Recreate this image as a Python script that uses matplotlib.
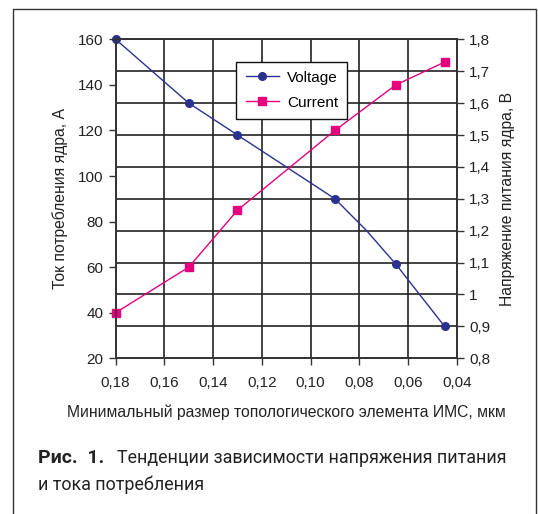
import matplotlib.pyplot as plt
from matplotlib.patches import Rectangle

# размер топологического элемента, мкм
sizes = [0.18, 0.15, 0.13, 0.09, 0.065, 0.045]
current = [40, 60, 85, 120, 140, 150]
# у кривой напряжения есть излом без маркера около 0,077
volt_sizes = [0.18, 0.15, 0.13, 0.09, 0.077, 0.065, 0.045]
voltage = [1.8, 1.6, 1.5, 1.3, 1.2, 1.095, 0.9]
volt_marked = [0, 1, 2, 3, 5, 6]

x_ticks = [0.18, 0.16, 0.14, 0.12, 0.10, 0.08, 0.06, 0.04]
x_labels = ["0,18", "0,16", "0,14", "0,12", "0,10", "0,08", "0,06", "0,04"]
left_ticks = [20, 40, 60, 80, 100, 120, 140, 160]
right_ticks = [0.8, 0.9, 1.0, 1.1, 1.2, 1.3, 1.4, 1.5, 1.6, 1.7, 1.8]
right_labels = ["0,8", "0,9", "1", "1,1", "1,2", "1,3", "1,4", "1,5", "1,6", "1,7", "1,8"]

plt.rcParams["font.family"] = ["Liberation Sans", "DejaVu Sans"]
plt.rcParams["font.size"] = 11

fig = plt.figure(figsize=(5.38, 5.14), dpi=100)
ax = fig.add_axes([0.215, 0.303, 0.634, 0.6205])
ax2 = ax.twinx()

# сетка и серый фон рисуются на правой оси, она под левой
ax2.set_zorder(0)
ax.set_zorder(1)
ax.patch.set_visible(False)
ax2.patch.set_facecolor("#d3d4d6")

volt_color = "#2b3190"
cur_color = "#e6007e"

l1, = ax2.plot(volt_sizes, voltage, color=volt_color, lw=1.0, marker="o",
               ms=5.5, markevery=volt_marked, label="Voltage", clip_on=False)
l2, = ax.plot(sizes, current, color=cur_color, lw=1.0, marker="s",
              ms=6, label="Current", clip_on=False)

ax.set_xlim(0.18, 0.04)
ax.set_ylim(20, 160)
ax2.set_ylim(0.8, 1.8)
ax.set_xticks(x_ticks)
ax.set_xticklabels(x_labels)
ax.set_yticks(left_ticks)
ax2.set_yticks(right_ticks)
ax2.set_yticklabels(right_labels)

ax2.xaxis.set_visible(True)
ax2.grid(True, axis="both", color="#222222", lw=1.2)
ax2.set_axisbelow(True)

for a in (ax, ax2):
    for s in a.spines.values():
        s.set_color("#333333")
        s.set_linewidth(1.2)
    a.tick_params(direction="out", length=5, width=1, color="#333333",
                  labelsize=11, labelcolor="#222222", pad=4)
ax.tick_params(axis="x", pad=8)
ax2.tick_params(axis="x", labelbottom=False, length=0)

lab_size = 11.3
ax.set_xlabel("Минимальный размер топологического элемента ИМС, мкм",
              fontsize=lab_size, color="#222222", labelpad=10)
ax.set_ylabel("Ток потребления ядра, А", fontsize=lab_size, color="#222222",
              labelpad=7)
ax2.set_ylabel("Напряжение питания ядра, В", fontsize=lab_size,
               color="#222222", labelpad=7)

leg = ax.legend([l1, l2], ["Voltage", "Current"], loc="upper left",
                bbox_to_anchor=(0.354, 0.93), borderaxespad=0, fancybox=False,
                framealpha=1, edgecolor="#111111", fontsize=11,
                handlelength=2.2, handletextpad=0.5, labelspacing=0.7,
                borderpad=0.6)
leg.get_frame().set_linewidth(1.0)

fig.add_artist(Rectangle((0.024, -0.02), 0.973, 1.0025, fill=False,
                         edgecolor="#333333", lw=1.0,
                         transform=fig.transFigure))

cap_font = ["Roboto", "DejaVu Sans"]
fig.text(0.070, 0.108, "Рис.  1.", fontsize=14, fontweight="bold",
         family=cap_font, color="#222222", va="center")
fig.text(0.217, 0.108, "Тенденции зависимости напряжения питания",
         fontsize=12.9, family=cap_font, color="#222222", va="center")
fig.text(0.070, 0.056, "и тока потребления", fontsize=12.9,
         family=cap_font, color="#222222", va="center")

fig.savefig("out.png", dpi=100)
